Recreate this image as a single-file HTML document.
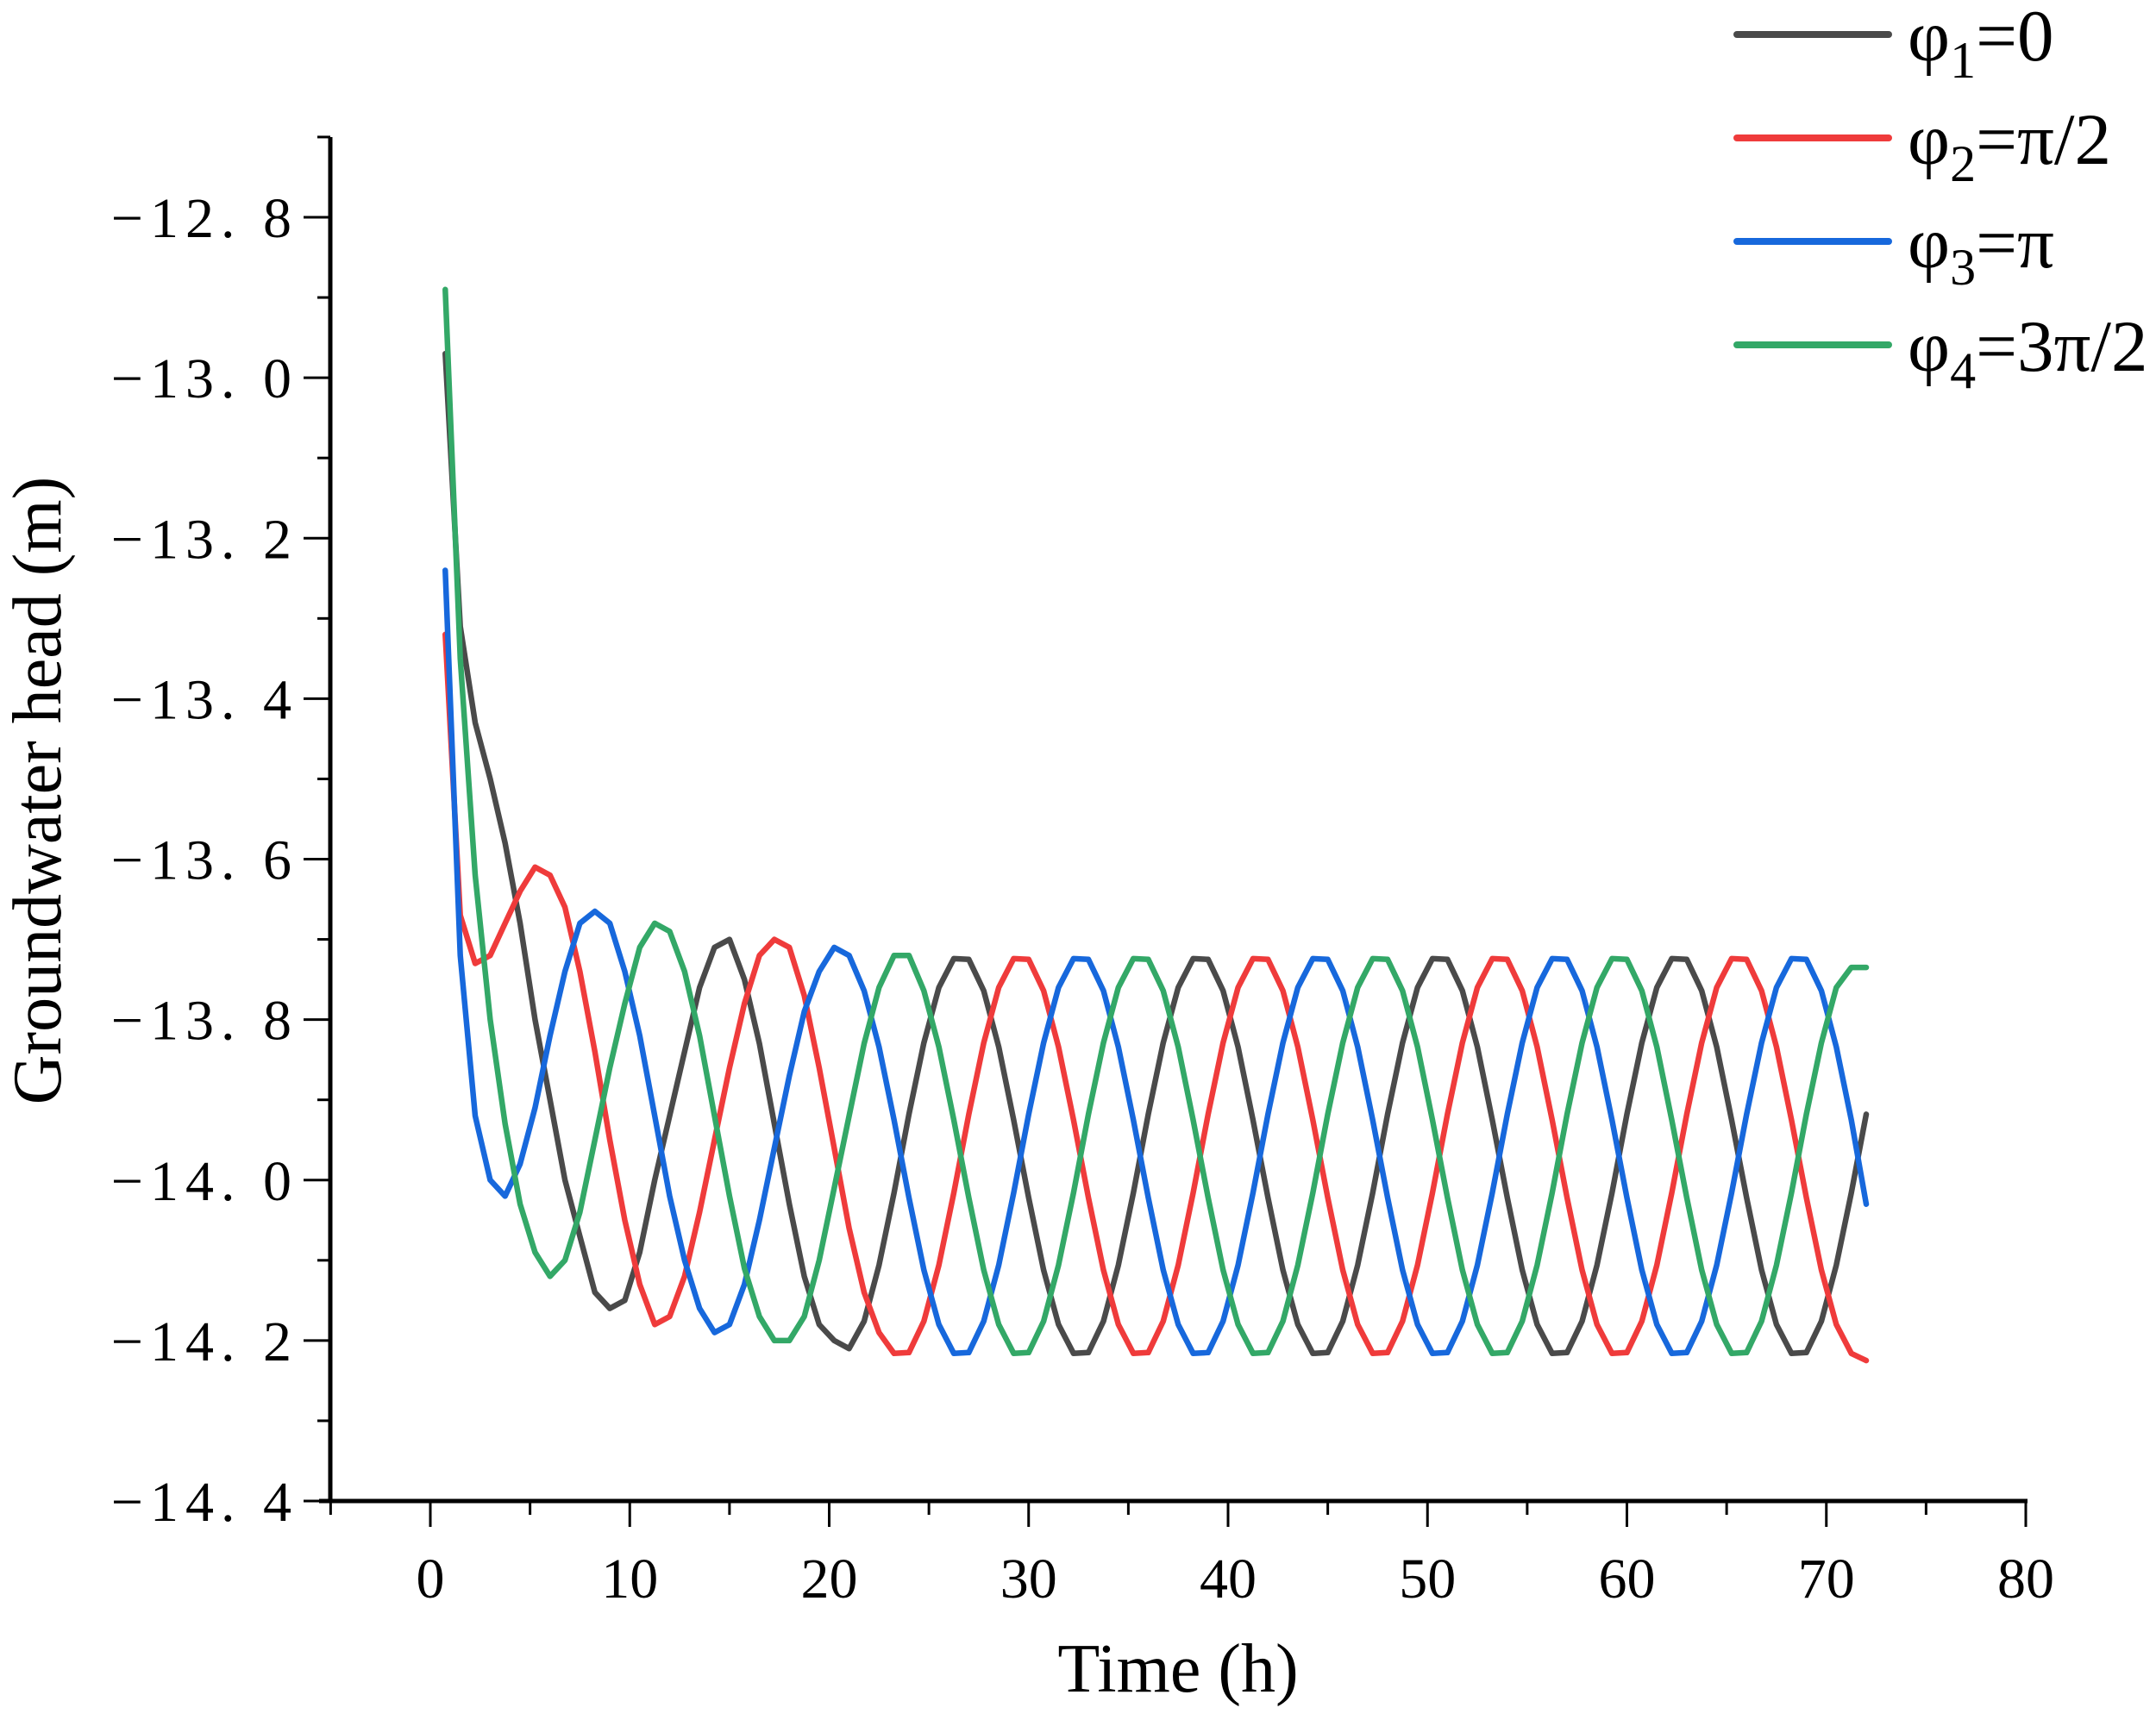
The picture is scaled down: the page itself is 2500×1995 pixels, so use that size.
<!DOCTYPE html>
<html><head><meta charset="utf-8"><style>
html,body{margin:0;padding:0;background:#fff;}
svg{display:block;}
text{font-family:"Liberation Serif",serif;fill:#000;}
</style></head><body>
<svg id="chart" width="2500" height="1995" viewBox="0 0 2500 1995" xmlns="http://www.w3.org/2000/svg">
<g id="axes"></g>
<g id="series"></g>
<text x="1366" y="1962" font-size="80" text-anchor="middle">Time (h)</text>
<text transform="translate(70,917) rotate(-90)" font-size="80" text-anchor="middle">Groundwater head (m)</text>
<g id="legend"></g>
</svg>
<script>
const xTicks = [0,10,20,30,40,50,60,70,80];
const yTicks = [-12.8,-13.0,-13.2,-13.4,-13.6,-13.8,-14.0,-14.2,-14.4];
const yTickLabels = ["\u221212. 8","\u221213. 0","\u221213. 2","\u221213. 4","\u221213. 6","\u221213. 8","\u221214. 0","\u221214. 2","\u221214. 4"];
const seriesNames = ["phi1","phi2","phi3","phi4"];
const dt = 0.75;
const black = [-12.97,-13.31,-13.43,-13.50,-13.58,-13.68,-13.80,-13.90,-14.00,-14.07,-14.14,-14.16,-14.15,-14.09,-14.00,-13.92,-13.84,-13.76,-13.71,-13.70,-13.75,-13.83,-13.93,-14.03,-14.12,-14.18,-14.20,-14.21,
-14.176,-14.106,-14.016,-13.918,-13.829,-13.760,-13.724,
-13.725,-13.764,-13.834,-13.925,-14.022,-14.112,-14.180,-14.216,-14.215,-14.176,-14.106,-14.016,-13.918,-13.829,-13.760,-13.724,
-13.725,-13.764,-13.834,-13.925,-14.022,-14.112,-14.180,-14.216,-14.215,-14.176,-14.106,-14.016,-13.918,-13.829,-13.760,-13.724,
-13.725,-13.764,-13.834,-13.925,-14.022,-14.112,-14.180,-14.216,-14.215,-14.176,-14.106,-14.016,-13.918,-13.829,-13.760,-13.724,
-13.725,-13.764,-13.834,-13.925,-14.022,-14.112,-14.180,-14.216,-14.215,-14.176,-14.106,-14.016,-13.918];
const red = [-13.32,-13.67,-13.73,-13.72,-13.68,-13.64,-13.61,-13.62,-13.66,-13.74,-13.84,-13.95,-14.05,-14.13,-14.18,-14.17,-14.12,-14.04,-13.95,-13.86,-13.78,-13.72,-13.70,-13.71,-13.77,-13.86,-13.96,-14.06,-14.14,-14.19,
-14.216,-14.215,-14.176,-14.106,-14.016,-13.918,-13.829,-13.760,-13.724,
-13.725,-13.764,-13.834,-13.925,-14.022,-14.112,-14.180,-14.216,-14.215,-14.176,-14.106,-14.016,-13.918,-13.829,-13.760,-13.724,
-13.725,-13.764,-13.834,-13.925,-14.022,-14.112,-14.180,-14.216,-14.215,-14.176,-14.106,-14.016,-13.918,-13.829,-13.760,-13.724,
-13.725,-13.764,-13.834,-13.925,-14.022,-14.112,-14.180,-14.216,-14.215,-14.176,-14.106,-14.016,-13.918,-13.829,-13.760,-13.724,
-13.725,-13.764,-13.834,-13.925,-14.022,-14.112,-14.180,-14.216,-14.225];
const blue = [-13.24,-13.72,-13.92,-14.00,-14.02,-13.98,-13.91,-13.82,-13.74,-13.68,-13.665,-13.68,-13.74,-13.82,-13.92,-14.02,-14.10,-14.16,-14.19,-14.18,-14.13,-14.05,-13.96,-13.87,-13.79,-13.74,-13.71,-13.72,
-13.764,-13.834,-13.925,-14.022,-14.112,-14.180,-14.216,-14.215,-14.176,-14.106,-14.016,-13.918,-13.829,-13.760,-13.724,
-13.725,-13.764,-13.834,-13.925,-14.022,-14.112,-14.180,-14.216,-14.215,-14.176,-14.106,-14.016,-13.918,-13.829,-13.760,-13.724,
-13.725,-13.764,-13.834,-13.925,-14.022,-14.112,-14.180,-14.216,-14.215,-14.176,-14.106,-14.016,-13.918,-13.829,-13.760,-13.724,
-13.725,-13.764,-13.834,-13.925,-14.022,-14.112,-14.180,-14.216,-14.215,-14.176,-14.106,-14.016,-13.918,-13.829,-13.760,-13.724,
-13.725,-13.764,-13.834,-13.925,-14.030];
const green = [-12.89,-13.35,-13.62,-13.80,-13.93,-14.03,-14.09,-14.12,-14.10,-14.04,-13.95,-13.86,-13.78,-13.71,-13.68,-13.69,-13.74,-13.82,-13.92,-14.02,-14.11,-14.17,-14.20,-14.20,-14.17,-14.10,-14.01,-13.92,-13.83,-13.76,-13.72,-13.72,
-13.764,-13.834,-13.925,-14.022,-14.112,-14.180,-14.216,-14.215,-14.176,-14.106,-14.016,-13.918,-13.829,-13.760,-13.724,
-13.725,-13.764,-13.834,-13.925,-14.022,-14.112,-14.180,-14.216,-14.215,-14.176,-14.106,-14.016,-13.918,-13.829,-13.760,-13.724,
-13.725,-13.764,-13.834,-13.925,-14.022,-14.112,-14.180,-14.216,-14.215,-14.176,-14.106,-14.016,-13.918,-13.829,-13.760,-13.724,
-13.725,-13.764,-13.834,-13.925,-14.022,-14.112,-14.180,-14.216,-14.215,-14.176,-14.106,-14.016,-13.918,-13.829,-13.760,-13.735,
-13.735];
const colors = ["#4a4a4a","#ef3b3b","#1768dc","#33a867"];
const legendLabels = [["1","=0"],["2","=\u03c0/2"],["3","=\u03c0"],["4","=3\u03c0/2"]];

const NS = "http://www.w3.org/2000/svg";
const X0 = 499, XPX = (2349 - 499) / 80;
const Y0 = 252, YPX = (1741 - 252) / 1.6;
function sx(t){ return X0 + t * XPX; }
function sy(v){ return Y0 + (-12.8 - v) * YPX; }
function mk(tag, attrs){ const e = document.createElementNS(NS, tag); for (const k in attrs) e.setAttribute(k, attrs[k]); return e; }

const axes = document.getElementById('axes');
const yAxis = mk('line', {x1:383, y1:159, x2:383, y2:1743, stroke:'#000', 'stroke-width':5});


axes.appendChild(yAxis);
const xAxis = mk('line', {x1:370, y1:1741, x2:2351, y2:1741, stroke:'#000', 'stroke-width':5});


axes.appendChild(xAxis);

yTicks.forEach((v, i) => {
  const y = sy(v);
  const t = mk('line', {x1:352, y1:y, x2:383, y2:y, stroke:'#000', 'stroke-width':3});
  
  
  axes.appendChild(t);
  const lb = mk('text', {x:346, y:y + 23, 'font-size':66, 'text-anchor':'end', 'letter-spacing':'8'});
  lb.textContent = yTickLabels[i];
  
  
  axes.appendChild(lb);
  const mv = v + 0.1;
  if (mv <= -12.7) {
    const ym = sy(mv);
    const m = mk('line', {x1:368, y1:ym, x2:383, y2:ym, stroke:'#000', 'stroke-width':3});
    
    
    axes.appendChild(m);
  }
});
xTicks.forEach((v) => {
  const x = sx(v);
  const t = mk('line', {x1:x, y1:1741, x2:x, y2:1771, stroke:'#000', 'stroke-width':3});
  
  
  axes.appendChild(t);
  const lb = mk('text', {x:x, y:1853, 'font-size':66, 'text-anchor':'middle'});
  lb.textContent = String(v);
  
  
  axes.appendChild(lb);
  const xm = sx(v - 5);
  const m = mk('line', {x1:xm, y1:1741, x2:xm, y2:1757, stroke:'#000', 'stroke-width':3});
  
  
  axes.appendChild(m);
});

const sg = document.getElementById('series');
[black, red, blue, green].forEach((arr, si) => {
  const pts = arr.map((v, k) => sx((k + 1) * dt).toFixed(1) + ',' + sy(v).toFixed(1)).join(' ');
  const pl = mk('polyline', {points:pts, fill:'none', stroke:colors[si], 'stroke-width':6.5, 'stroke-linejoin':'round', 'stroke-linecap':'round'});
  
  
  sg.appendChild(pl);
});

const lg = document.getElementById('legend');
legendLabels.forEach((lab, i) => {
  const y = 40 + i * 120;
  const ln = mk('line', {x1:2014, y1:y, x2:2190, y2:y, stroke:colors[i], 'stroke-width':8, 'stroke-linecap':'round'});
  
  
  lg.appendChild(ln);
  const tx = mk('text', {x:2212, y:y + 30, 'font-size':85});
  
  
  const a = mk('tspan', {}); a.textContent = '\u03c6';
  const b = mk('tspan', {'font-size':60, dy:20}); b.textContent = lab[0];
  const c = mk('tspan', {dy:-20}); c.textContent = lab[1];
  tx.appendChild(a); tx.appendChild(b); tx.appendChild(c);
  lg.appendChild(tx);
});
</script>
</body></html>
